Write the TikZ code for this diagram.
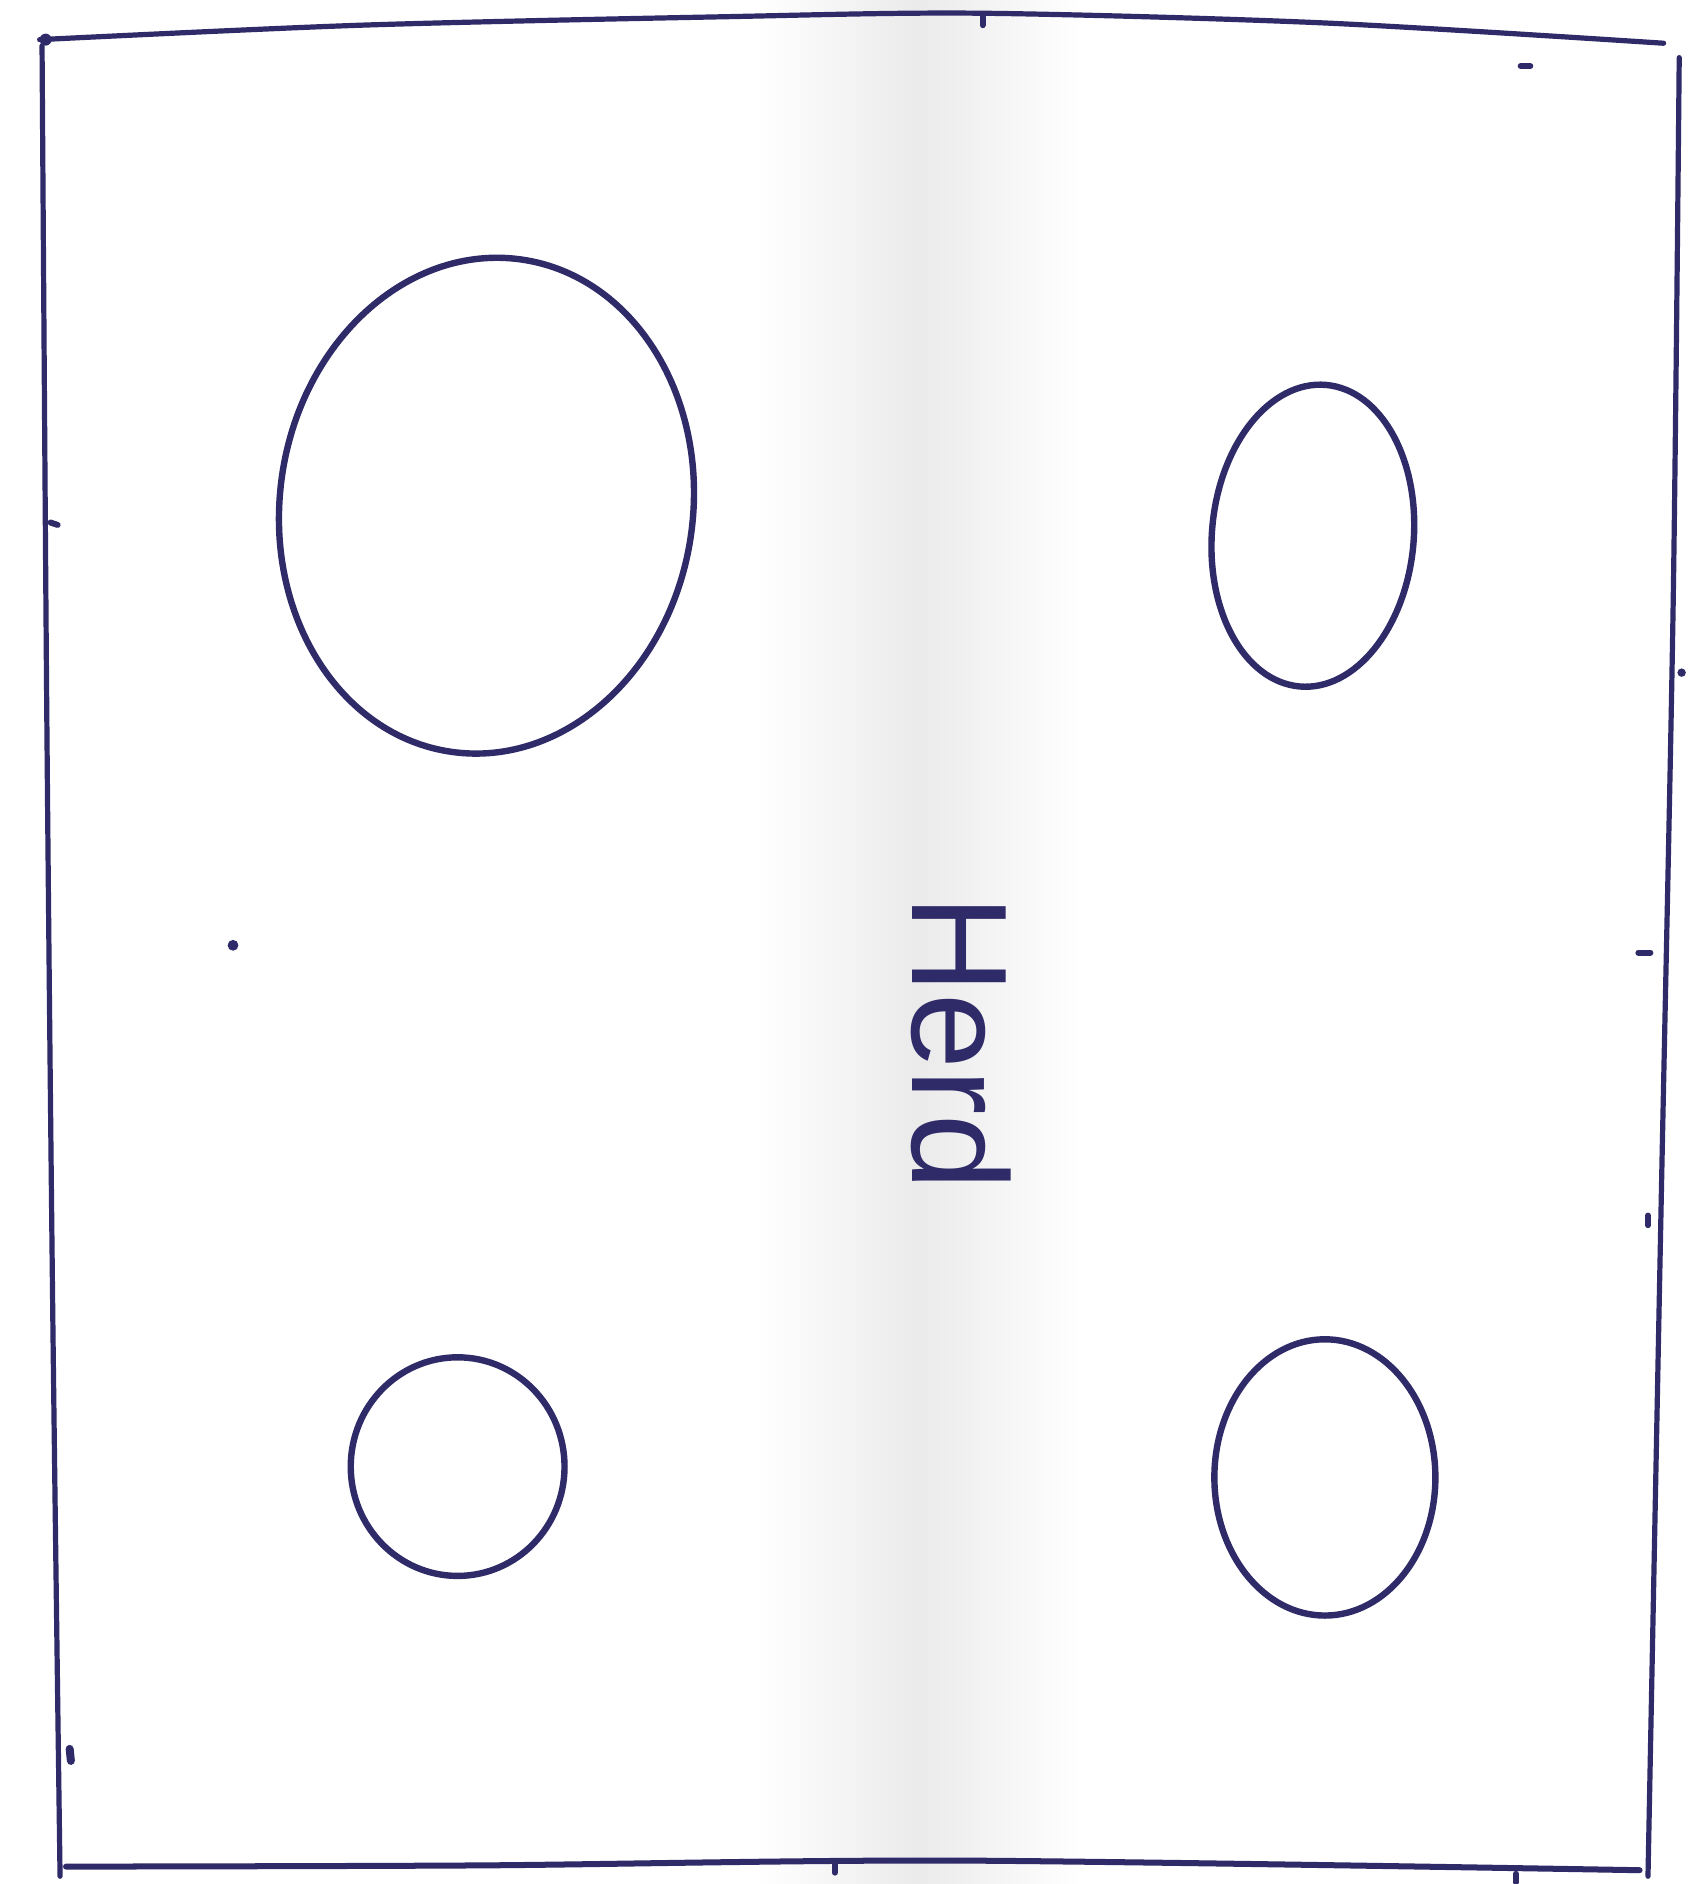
\documentclass[tikz,border=0pt]{standalone}
\usepackage{fontspec}
\setmainfont{Liberation Sans}
\definecolor{ink}{HTML}{2F2A68}
\tikzset{
  frameline/.style={draw=ink, line width=2.6pt, line cap=round, line join=round},
  ovalline/.style={draw=ink, line width=3.2pt, line join=round},
  tickmark/.style={draw=ink, line width=3pt, line cap=round},
  dotmark/.style={fill=ink},
}
\begin{document}
\begin{tikzpicture}[x=0.6pt, y=-0.6pt]
\useasboundingbox (0,0) rectangle (1407,1568.5);
\fill[white] (0,0) rectangle (1407,1568.5);
% paper fold shading
\shade[left color=white, right color=white, middle color=black!8] (630,0) rectangle (900,1568.5);
% frame
\draw[frameline] plot[smooth] coordinates {(33,33) (300,21) (600,14) (815,11) (1100,19) (1385,36)};
\draw[frameline] plot[smooth] coordinates {(35,38) (39,600) (44,1100) (50,1562)};
\draw[frameline] plot[smooth] coordinates {(1398,48) (1393,500) (1383,1000) (1372,1562)};
\draw[frameline, line width=3pt] plot[smooth] coordinates {(55,1554) (400,1553) (800,1549) (1365,1557)};
% tick marks
\coordinate (t1) at (38,33); \fill[dotmark] (t1) circle (5);
\coordinate (t2) at (818,14); \draw[tickmark] (t2) -- ++(0,7);
\coordinate (t3) at (1266,55); \draw[tickmark] (t3) -- ++(8,0);
\coordinate (t4) at (42,435); \draw[tickmark] (t4) -- ++(6,2);
\coordinate (t5) at (194,787); \fill[dotmark] (t5) circle (4.5);
\coordinate (t6) at (1400,560); \fill[dotmark] (t6) circle (3.5);
\coordinate (t7) at (1364,793); \draw[tickmark] (t7) -- ++(10,0);
\coordinate (t8) at (1372,1012); \draw[tickmark] (t8) -- ++(0,8);
\coordinate (t9) at (58,1456); \draw[tickmark, line width=4pt] (t9) -- ++(1,10);
\coordinate (t10) at (695,1552); \draw[tickmark] (t10) -- ++(0,7);
\coordinate (t11) at (1262,1560); \draw[tickmark] (t11) -- ++(0,7);
% ovals
\coordinate (o1) at (405,421);
\coordinate (o2) at (1093,446);
\coordinate (o3) at (381,1221);
\coordinate (o4) at (1103,1230);
\draw[ovalline, rotate around={-8:(o1)}] (o1) ellipse [x radius=172, y radius=207];
\draw[ovalline, rotate around={-5:(o2)}] (o2) ellipse [x radius=84, y radius=126];
\draw[ovalline] (o3) ellipse [x radius=89, y radius=91];
\draw[ovalline] (o4) ellipse [x radius=92, y radius=115];
% text
\node[text=ink, rotate=-90, font=\fontsize{68}{72}\selectfont, inner sep=0pt] (herd) at (800,868) {Herd};
\end{tikzpicture}
\end{document}
